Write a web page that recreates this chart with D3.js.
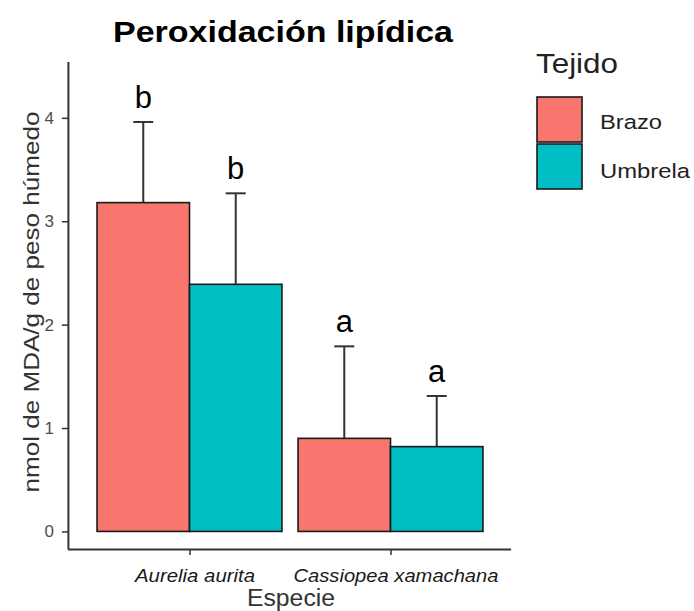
<!DOCTYPE html>
<html>
<head>
<meta charset="utf-8">
<script src="https://cdn.jsdelivr.net/npm/d3@7"></script>
<style>
  body { margin: 0; background: #fff; }
  svg { font-family: "Liberation Sans", Arial, sans-serif; }
</style>
</head>
<body>
<svg id="chart" width="694" height="611"></svg>
<script>
const especies = ["Aurelia aurita", "Cassiopea xamachana"];
const tejidos = ["Brazo", "Umbrela"];
const medias = [[3.18, 2.39], [0.90, 0.82]];
const errSup = [[3.96, 3.27], [1.79, 1.31]];
const letras = [["b", "b"], ["a", "a"]];
const yTicks = [0, 1, 2, 3, 4];
const colores = ["#F8766D", "#00BFC4"];

const svg = d3.select("#chart");
const mLeft = 68.9, mRight = 511.1, mTop = 62, mBottom = 549;

// escala discreta al estilo ggplot (expansion 0.6)
const x = d3.scaleLinear().domain([0.4, 2.6]).range([mLeft, mRight]);
const y = d3.scaleLinear().domain([-0.17, 4.54]).range([mBottom, mTop]);
const barW = 0.46;

const datos = [];
especies.forEach((e, i) => {
  tejidos.forEach((t, j) => {
    datos.push({ i, j, media: medias[i][j], sup: errSup[i][j], letra: letras[i][j] });
  });
});

const pos = i => i + 1;
const x0 = d => x(pos(d.i) - barW + d.j * barW);
const cx = d => x(pos(d.i) - barW / 2 + d.j * barW);

// barras de error (solo superior)
const eb = svg.append("g").attr("stroke", "#333").attr("stroke-width", 2);
datos.forEach(d => {
  eb.append("line").attr("x1", cx(d)).attr("x2", cx(d)).attr("y1", y(d.media)).attr("y2", y(d.sup));
  eb.append("line").attr("x1", cx(d) - 10).attr("x2", cx(d) + 10).attr("y1", y(d.sup)).attr("y2", y(d.sup));
});

// barras
svg.append("g").selectAll("rect")
  .data(datos)
  .enter()
  .append("rect")
  .attr("x", d => x0(d))
  .attr("width", d => x(barW) - x(0))
  .attr("y", d => y(d.media))
  .attr("height", d => y(0) - y(d.media))
  .attr("fill", d => colores[d.j])
  .attr("stroke", "#1a1a1a")
  .attr("stroke-width", 1.6);

// letras
svg.append("g").selectAll("text")
  .data(datos)
  .enter()
  .append("text")
  .attr("x", d => cx(d))
  .attr("y", d => y(d.sup) - 14)
  .attr("text-anchor", "middle")
  .attr("font-size", 31)
  .attr("fill", "#000")
  .text(d => d.letra);

// ejes
const yAxis = svg.append("g")
  .attr("transform", `translate(${mLeft},0)`)
  .call(d3.axisLeft(y).tickValues(yTicks).tickSize(7).tickPadding(8).tickFormat(d3.format("d")));
yAxis.select(".domain").attr("d", `M-0.5,${mTop}V${mBottom}`).attr("stroke", "#333").attr("stroke-width", 2);
yAxis.selectAll(".tick line").attr("stroke", "#333").attr("stroke-width", 1.5);
yAxis.selectAll(".tick text").attr("font-size", 17).attr("fill", "#4d4d4d")
  .attr("font-family", "Liberation Sans, Arial, sans-serif");

const xLabW = [120, 205];
const xAxis = svg.append("g")
  .attr("transform", `translate(0,${mBottom})`)
  .call(d3.axisBottom(x).tickValues([1, 2]).tickSize(6).tickPadding(14).tickFormat(d => especies[d - 1]));
xAxis.select(".domain").attr("d", `M${mLeft - 1},0.5H${mRight}`).attr("stroke", "#333").attr("stroke-width", 2);
xAxis.selectAll(".tick line").attr("stroke", "#333").attr("stroke-width", 1.5);
xAxis.selectAll(".tick text").attr("font-size", 18).attr("font-style", "italic").attr("fill", "#1a1a1a")
  .attr("font-family", "Liberation Sans, Arial, sans-serif")
  .attr("dx", 5)
  .attr("textLength", (d, k) => xLabW[k])
  .attr("lengthAdjust", "spacingAndGlyphs");

// títulos
svg.append("text")
  .attr("x", 283).attr("y", 42)
  .attr("text-anchor", "middle")
  .attr("font-size", 30).attr("font-weight", "bold")
  .attr("textLength", 340).attr("lengthAdjust", "spacingAndGlyphs")
  .text("Peroxidación lipídica");

svg.append("text")
  .attr("x", 291).attr("y", 606)
  .attr("text-anchor", "middle")
  .attr("font-size", 23).attr("fill", "#333")
  .attr("textLength", 88).attr("lengthAdjust", "spacingAndGlyphs")
  .text("Especie");

svg.append("text")
  .attr("transform", `translate(39,302) rotate(-90)`)
  .attr("text-anchor", "middle")
  .attr("font-size", 21.5).attr("fill", "#333")
  .attr("textLength", 381).attr("lengthAdjust", "spacingAndGlyphs")
  .text("nmol de MDA/g de peso húmedo");

// leyenda
const legW = [62, 90];
const leg = svg.append("g");
leg.append("text").attr("x", 536).attr("y", 73).attr("font-size", 27).attr("fill", "#222")
  .attr("textLength", 82).attr("lengthAdjust", "spacingAndGlyphs")
  .text("Tejido");
tejidos.forEach((t, j) => {
  leg.append("rect")
    .attr("x", 537).attr("y", 97 + j * 47)
    .attr("width", 45).attr("height", 45)
    .attr("fill", colores[j]).attr("stroke", "#1a1a1a").attr("stroke-width", 1.6);
  leg.append("text")
    .attr("x", 600).attr("y", 129 + j * 49)
    .attr("font-size", 20.5).attr("fill", "#222")
    .attr("textLength", legW[j]).attr("lengthAdjust", "spacingAndGlyphs")
    .text(t);
});
</script>
</body>
</html>
